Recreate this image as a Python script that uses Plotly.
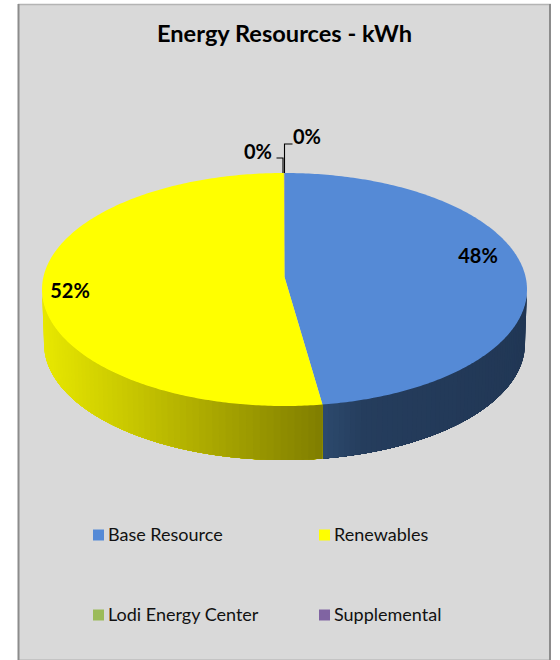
import math
import plotly.graph_objects as go

# ---- data ----
categories = ["Base Resource", "Renewables", "Lodi Energy Center", "Supplemental"]
values = [47.5, 52.46, 0.02, 0.02]
title_text = "Energy Resources - kWh"

# ---- styles / layout ----
colors = ["#558ad6", "#ffff00", "#9bbb59", "#8064a2"]
FONT = "Lato, Carlito, Calibri, sans-serif"
CX, CY, RX, RY = 284.5, 289.5, 242.5, 116.5        # top face ellipse
APEX_Y = 277.0                                     # perspective centre of the top face
BX, BY, BRX, BRY = 284.5, 343.5, 240.5, 116.5      # bottom rim ellipse
side_stops = {
    0: [(0.0, (44, 74, 110)), (0.2, (37, 61, 93)), (1.0, (33, 55, 85))],
    1: [(0.0, (128, 126, 0)), (0.35, (165, 163, 0)), (1.0, (232, 232, 0))],
}
label_pos = [(478, 258), (70, 293), (258, 154), (307, 139)]
legend_pos = [(98.5, 535), (324.5, 535), (98.5, 615), (324.5, 615)]


def top(t):
    return CX + RX * math.sin(t), CY - RY * math.cos(t)


def bottom(t):
    return BX + BRX * math.sin(t), BY - BRY * math.cos(t)


def blend(stops, f):
    for (f0, c0), (f1, c1) in zip(stops, stops[1:]):
        if f <= f1:
            k = (f - f0) / (f1 - f0)
            return "rgb(%d,%d,%d)" % tuple(round(a + (b - a) * k) for a, b in zip(c0, c1))
    return "rgb(%d,%d,%d)" % stops[-1][1]


def poly(xs, ys, color):
    return go.Scatter(x=xs, y=ys, mode="none", fill="toself", fillcolor=color,
                      hoverinfo="skip", showlegend=False)


total = sum(values)
fig = go.Figure()

# slice boundaries, clockwise from twelve o'clock
edges = [0.0]
for v in values:
    edges.append(edges[-1] + v / total * 2 * math.pi)
seam = edges[1]

# side wall: visible only on the front half of the pie.
# Each band is painted from its start to the slice end, so later bands overlap
# earlier ones and no hairline seams appear.
for i, end_angle in ((0, math.pi / 2), (1, 3 * math.pi / 2)):
    n = 60
    for k in range(n):
        # walk from the outer silhouette towards the seam so the seam side is on top
        t0 = end_angle + (seam - end_angle) * k / n
        t1 = seam
        f = abs(math.sin(t0 + (seam - end_angle) / (2 * n)) - math.sin(seam)) / abs(math.sin(end_angle) - math.sin(seam))
        m = 40
        ts = [t0 + (t1 - t0) * j / m for j in range(m + 1)]
        tp = [top(t) for t in ts]
        bt = [bottom(t) for t in reversed(ts)]
        fig.add_trace(poly([p[0] for p in tp + bt], [p[1] for p in tp + bt], blend(side_stops[i], f)))

# top face wedges
for i, c in enumerate(colors):
    n = max(2, int((edges[i + 1] - edges[i]) * 80))
    pts = [top(edges[i] + (edges[i + 1] - edges[i]) * k / n) for k in range(n + 1)]
    xs = [CX] + [p[0] for p in pts] + [CX]
    ys = [APEX_Y] + [p[1] for p in pts] + [APEX_Y]
    fig.add_trace(poly(xs, ys, c))

# leader lines of the two 0 % labels
rim_x, rim_y = top(0)
fig.add_trace(go.Scatter(x=[rim_x, rim_x, rim_x + 8], y=[rim_y, rim_y - 29, rim_y - 29], mode="lines",
                         line=dict(color="#000000", width=1.1), hoverinfo="skip", showlegend=False))
fig.add_trace(go.Scatter(x=[rim_x - 1.5, rim_x - 1.5, rim_x - 8], y=[rim_y, rim_y - 15, rim_y - 15], mode="lines",
                         line=dict(color="#000000", width=1.1), hoverinfo="skip", showlegend=False))

# percent labels
fig.add_trace(go.Scatter(x=[p[0] for p in label_pos], y=[p[1] for p in label_pos], mode="text",
                         text=[f"{round(v / total * 100)}%" for v in values],
                         textposition="middle center",
                         textfont=dict(family=FONT, size=20, color="#000000", weight="bold"),
                         hoverinfo="skip", showlegend=False))

# legend
for name, c, (lx, ly) in zip(categories, colors, legend_pos):
    fig.add_trace(go.Scatter(x=[lx], y=[ly], mode="markers", name=name,
                             marker=dict(symbol="square", size=11, color=c),
                             hoverinfo="skip", showlegend=False))
    fig.add_annotation(x=lx + 7.5, y=ly - 1, text=name, showarrow=False, xanchor="left", yanchor="middle",
                       font=dict(family=FONT, size=18, color="#111111"))

fig.add_annotation(x=284.5, y=33, text=title_text, showarrow=False, xanchor="center", yanchor="middle",
                   font=dict(family=FONT, size=23.6, color="#000000", weight="bold"))


def edge(x0, y0, x1, y1, color, width):
    return dict(type="line", layer="below", xref="x", yref="y", x0=x0, y0=y0, x1=x1, y1=y1,
                line=dict(color=color, width=width))


fig.update_layout(
    width=560, height=660, margin=dict(l=0, r=0, t=0, b=0),
    paper_bgcolor="#ffffff", plot_bgcolor="rgba(0,0,0,0)", showlegend=False,
    xaxis=dict(range=[0, 560], visible=False, fixedrange=True),
    yaxis=dict(range=[660, 0], visible=False, fixedrange=True),
    shapes=[
        dict(type="rect", layer="below", xref="x", yref="y", x0=18.5, x1=550, y0=5, y1=659,
             fillcolor="#d9d9d9", line=dict(width=0)),
        edge(18, 4.5, 551, 4.5, "#b4b4b4", 1.5),
        edge(18, 659.5, 551, 659.5, "#c4c4c4", 1),
        edge(18.5, 4, 18.5, 660, "#8c8c8c", 2),
        edge(550, 4, 550, 660, "#8c8c8c", 2),
    ],
)

fig.write_html("out.html", config={"displayModeBar": False, "staticPlot": True},
               post_script="document.body.style.margin='0';")
